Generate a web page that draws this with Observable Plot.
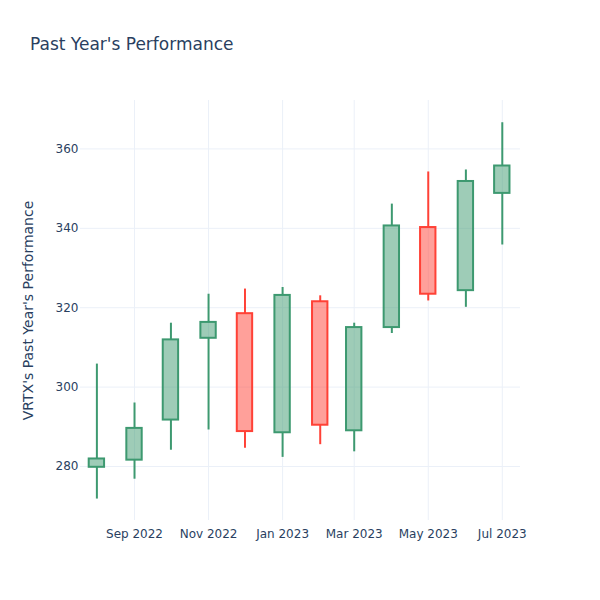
<!DOCTYPE html>
<html>
<head>
<meta charset="utf-8">
<script src="https://cdn.jsdelivr.net/npm/d3@7"></script>
<script src="https://cdn.jsdelivr.net/npm/@observablehq/plot@0.6"></script>
<style>
  body { margin: 0; background: #fff; }
  #wrap { position: relative; width: 600px; height: 600px; font-family: "DejaVu Sans", sans-serif; }
  #title { position: absolute; left: 30px; top: 34px; font-size: 17px; color: #2a3f5f; white-space: nowrap; }
  #chart { position: absolute; left: 0; top: 0; }
</style>
</head>
<body>
<div id="wrap">
  <div id="chart"></div>
  <div id="title">Past Year's Performance</div>
</div>
<script>
const dates = ["2022-08-01","2022-09-01","2022-10-01","2022-11-01","2022-12-01","2023-01-01","2023-02-01","2023-03-01","2023-04-01","2023-05-01","2023-06-01","2023-07-01"];
const open  = [279.8, 281.6, 291.7, 312.3, 318.5, 288.5, 321.5, 289.0, 315.0, 340.2, 324.3, 348.8];
const high  = [305.8, 296.0, 316.1, 323.4, 324.7, 325.1, 323.0, 316.1, 346.1, 354.2, 354.7, 366.6];
const low   = [271.8, 276.8, 284.1, 289.2, 284.6, 282.3, 285.5, 283.7, 313.5, 321.7, 320.1, 335.8];
const close = [281.9, 289.6, 311.9, 316.3, 288.8, 323.1, 290.4, 315.0, 340.6, 323.4, 351.8, 355.7];
const yTicks = [280, 300, 320, 340, 360];
const xTickDates = ["2022-09-01","2022-11-01","2023-01-01","2023-03-01","2023-05-01","2023-07-01"];

const data = dates.map((d, i) => {
  const date = new Date(d + "T00:00:00Z");
  return {
    date,
    x1: d3.utcHour.offset(date, -152),
    x2: d3.utcHour.offset(date, 152),
    open: open[i], high: high[i], low: low[i], close: close[i],
    lo: Math.min(open[i], close[i]), hi: Math.max(open[i], close[i]),
    up: close[i] >= open[i]
  };
});
const xTicks = xTickDates.map(d => new Date(d + "T00:00:00Z"));
const inc = "#3D9970", dec = "#FF4136";
const col = d => d.up ? inc : dec;
const fillCol = d => d.up ? "rgba(61,153,112,0.5)" : "rgba(255,65,54,0.5)";

const chart = Plot.plot({
  width: 600,
  height: 600,
  marginLeft: 80,
  marginRight: 80,
  marginTop: 100,
  marginBottom: 80,
  style: { fontFamily: "DejaVu Sans, sans-serif", fontSize: "12px", color: "#2a3f5f", background: "#fff" },
  x: {
    type: "utc",
    domain: [new Date("2022-07-18T12:00:00Z"), new Date("2023-07-16T00:00:00Z")],
    label: null
  },
  y: {
    domain: [266.4, 372.2],
    label: null
  },
  marks: [
    Plot.gridY(yTicks, { stroke: "#EBF0F8", strokeOpacity: 1, strokeWidth: 1 }),
    Plot.gridX(xTicks, { stroke: "#EBF0F8", strokeOpacity: 1, strokeWidth: 1 }),
    Plot.axisY(yTicks, { tickSize: 0, tickPadding: 2, fill: "#2a3f5f", fontSize: 12, label: null }),
    Plot.axisX(xTicks, { tickSize: 0, tickPadding: 9, fill: "#2a3f5f", fontSize: 12, tickFormat: d3.utcFormat("%b %Y"), label: null }),
    Plot.ruleX(data, { x: "date", y1: "low", y2: "lo", stroke: col, strokeWidth: 2 }),
    Plot.ruleX(data, { x: "date", y1: "hi", y2: "high", stroke: col, strokeWidth: 2 }),
    Plot.rect(data, { x1: "x1", x2: "x2", y1: "lo", y2: "hi", fill: fillCol, stroke: col, strokeWidth: 2 }),
    Plot.text(["VRTX's Past Year's Performance"], {
      frameAnchor: "left", dx: -52, rotate: -90, textAnchor: "middle", lineAnchor: "middle",
      fontSize: 14, fill: "#2a3f5f", text: d => d
    })
  ]
});
document.getElementById("chart").appendChild(chart);
</script>
</body>
</html>
